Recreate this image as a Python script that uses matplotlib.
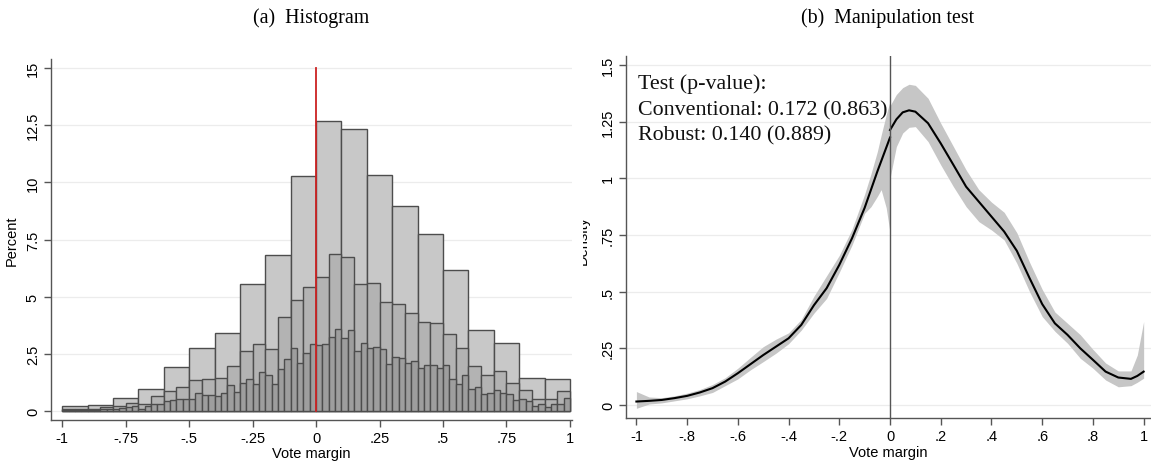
import numpy as np
import matplotlib.pyplot as plt
from matplotlib.patches import Rectangle

# ---- panel (a): histogram, percent per bin, three bin widths ----
wide_pct = [0.20, 0.25, 0.55, 0.95, 1.92, 2.74, 3.42, 5.56, 6.82, 10.30,
            12.70, 12.33, 10.34, 8.98, 7.76, 6.15, 3.52, 2.96, 1.46, 1.38]

mid_pct = [0.09, 0.10, 0.10, 0.15, 0.20, 0.35, 0.31, 0.64, 0.86, 1.06,
           1.35, 1.41, 1.46, 1.97, 2.62, 2.94, 2.72, 4.10, 4.85, 5.43,
           5.84, 6.87, 6.74, 5.56, 5.58, 4.76, 4.67, 4.27, 3.90, 3.86,
           3.38, 2.74, 1.97, 1.56, 1.73, 1.21, 0.92, 0.54, 0.51, 0.86]

narrow_pct = [0.04, 0.05, 0.05, 0.05, 0.05, 0.05, 0.07, 0.08,
              0.08, 0.12, 0.15, 0.20, 0.10, 0.20, 0.32, 0.32,
              0.42, 0.46, 0.52, 0.54, 0.54, 0.77, 0.70, 0.70,
              0.63, 0.80, 1.12, 0.84, 1.24, 1.38, 1.19, 1.72,
              1.56, 1.19, 1.82, 2.26, 2.75, 2.08, 2.52, 2.91,
              2.88, 2.93, 3.25, 3.57, 3.20, 3.54, 2.62, 2.96,
              2.75, 2.81, 2.69, 2.04, 2.36, 2.30, 2.09, 2.18,
              1.86, 2.01, 2.01, 1.86, 2.00, 1.38, 1.19, 1.56,
              0.95, 1.05, 0.73, 0.80, 0.92, 0.80, 0.73, 0.48,
              0.51, 0.42, 0.22, 0.32, 0.19, 0.30, 0.28, 0.57]

hist_xticks = [-1, -0.75, -0.5, -0.25, 0, 0.25, 0.5, 0.75, 1]
hist_xlabels = ['-1', '-.75', '-.5', '-.25', '0', '.25', '.5', '.75', '1']
hist_yticks = [0, 2.5, 5, 7.5, 10, 12.5, 15]
hist_ylabels = ['0', '2.5', '5', '7.5', '10', '12.5', '15']

# ---- panel (b): density estimate with confidence bands ----
left_x = [-1.0, -0.95, -0.9, -0.85, -0.8, -0.75, -0.7, -0.65, -0.6, -0.55,
          -0.5, -0.45, -0.4, -0.35, -0.3, -0.25, -0.2, -0.15, -0.1, -0.075,
          -0.05, -0.035, -0.015, 0.0]
left_y = [0.015, 0.018, 0.022, 0.030, 0.040, 0.055, 0.074, 0.103, 0.140, 0.180,
          0.220, 0.257, 0.294, 0.353, 0.440, 0.515, 0.618, 0.735, 0.870, 0.950,
          1.030, 1.075, 1.135, 1.180]
left_hi = [0.059, 0.035, 0.032, 0.040, 0.052, 0.068, 0.090, 0.120, 0.162, 0.210,
           0.257, 0.290, 0.318, 0.377, 0.480, 0.570, 0.660, 0.775, 0.930, 1.020,
           1.118, 1.190, 1.280, 1.340]
left_lo = [-0.015, 0.004, 0.009, 0.018, 0.027, 0.040, 0.055, 0.085, 0.115, 0.155,
           0.191, 0.228, 0.270, 0.330, 0.405, 0.470, 0.585, 0.705, 0.846, 0.875,
           0.920, 0.950, 0.870, 0.760]

right_x = [0.0, 0.025, 0.05, 0.075, 0.1, 0.15, 0.2, 0.25, 0.3, 0.35,
           0.4, 0.45, 0.5, 0.55, 0.6, 0.65, 0.7, 0.75, 0.8, 0.85,
           0.9, 0.95, 0.975, 1.0]
right_y = [1.213, 1.260, 1.291, 1.300, 1.294, 1.243, 1.154, 1.059, 0.963, 0.897,
           0.831, 0.765, 0.680, 0.560, 0.445, 0.360, 0.309, 0.250, 0.199, 0.147,
           0.121, 0.115, 0.128, 0.147]
right_hi = [1.320, 1.370, 1.400, 1.415, 1.410, 1.353, 1.243, 1.140, 1.037, 0.950,
            0.895, 0.850, 0.760, 0.630, 0.510, 0.410, 0.360, 0.310, 0.245, 0.185,
            0.150, 0.150, 0.220, 0.368]
right_lo = [1.000, 1.140, 1.200, 1.225, 1.228, 1.162, 1.059, 0.963, 0.875, 0.809,
            0.772, 0.728, 0.625, 0.500, 0.390, 0.325, 0.272, 0.206, 0.162, 0.110,
            0.080, 0.085, 0.100, 0.118]

dens_xticks = [-1, -0.8, -0.6, -0.4, -0.2, 0, 0.2, 0.4, 0.6, 0.8, 1]
dens_xlabels = ['-1', '-.8', '-.6', '-.4', '-.2', '0', '.2', '.4', '.6', '.8', '1']
dens_yticks = [0, 0.25, 0.5, 0.75, 1, 1.25, 1.5]
dens_ylabels = ['0', '.25', '.5', '.75', '1', '1.25', '1.5']

test_lines = ['Test (p-value):',
              'Conventional: 0.172 (0.863)',
              'Robust: 0.140 (0.889)']

sans = ['Liberation Sans', 'DejaVu Sans']
serif = ['Liberation Serif', 'DejaVu Serif']
axis_grey = '#555555'

W, H = 1151, 464
fig = plt.figure(figsize=(W / 100, H / 100), dpi=100)


def style_axes(ax, xt, xl, yt, yl):
    for side in ['top', 'right']:
        ax.spines[side].set_visible(False)
    for side in ['left', 'bottom']:
        ax.spines[side].set_color(axis_grey)
        ax.spines[side].set_linewidth(1.0)
    ax.set_xticks(xt)
    ax.set_xticklabels(xl, family=sans, fontsize=10.5)
    ax.set_yticks(yt)
    ax.set_yticklabels(yl, family=sans, fontsize=10.5, rotation=90, va='center')
    ax.tick_params(direction='out', length=5, width=1, color=axis_grey, pad=3)
    ax.grid(axis='y', color='#ececec', linewidth=0.9)
    ax.set_axisbelow(True)
    ax.set_xlabel('Vote margin', family=sans, fontsize=10.5, labelpad=1)


# (a) histogram
ax1 = fig.add_axes([51 / W, 43 / H, 521 / W, 361 / H])
bar_style = dict(align='edge', edgecolor='#4d4d4d', linewidth=1.0)
ax1.bar(np.arange(20) * 0.1 - 1, wide_pct, width=0.1, color='#c8c8c8', **bar_style)
ax1.bar(np.arange(40) * 0.05 - 1, mid_pct, width=0.05, color='#b3b3b3', **bar_style)
ax1.bar(np.arange(80) * 0.025 - 1, narrow_pct, width=0.025, color='#9e9e9e', **bar_style)
ax1.plot([0, 0], [0, 15], color='#cc2222', linewidth=1.3)
ax1.set_xlim(-1.044, 1.008)
ax1.set_ylim(-0.4, 15.4)
style_axes(ax1, hist_xticks, hist_xlabels, hist_yticks, hist_ylabels)
ax1.set_ylabel('Percent', family=sans, fontsize=10.5, labelpad=5)

# (b) density
ax2 = fig.add_axes([626 / W, 44.7 / H, 525 / W, 362.6 / H])
ax2.fill_between(left_x, left_lo, left_hi, color='#c6c6c6', linewidth=0)
ax2.fill_between(right_x, right_lo, right_hi, color='#c6c6c6', linewidth=0)
line_style = dict(color='black', linewidth=1.5, solid_joinstyle='round')
ax2.plot(left_x, left_y, **line_style)
ax2.plot(right_x, right_y, **line_style)
ax2.axvline(0, color='#555555', linewidth=1.0)
ax2.set_xlim(-1.041, 1.029)
ax2.set_ylim(-0.059, 1.541)
style_axes(ax2, dens_xticks, dens_xlabels, dens_yticks, dens_ylabels)
ax2.text(-0.994, 1.462, '\n'.join(test_lines), family=serif, fontsize=15.8,
         va='top', ha='left', linespacing=1.45, color='#111111')

# y label of panel (b) is cut off on the left in the original
dlab = fig.text(583 / W, 1 - 240 / H, 'Density', family=sans, fontsize=10.5,
                rotation=90, ha='center', va='center')
clip = Rectangle((583 / W, 0), 30 / W, 1, transform=fig.transFigure)
dlab.set_clip_path(clip)

# panel titles
fig.text(311 / W, 1 - 18 / H, '(a)  Histogram', family=serif, fontsize=14.3,
         ha='center', va='center')
fig.text(888 / W, 1 - 18 / H, '(b)  Manipulation test', family=serif, fontsize=14.3,
         ha='center', va='center')

fig.savefig('out.png', dpi=100)
